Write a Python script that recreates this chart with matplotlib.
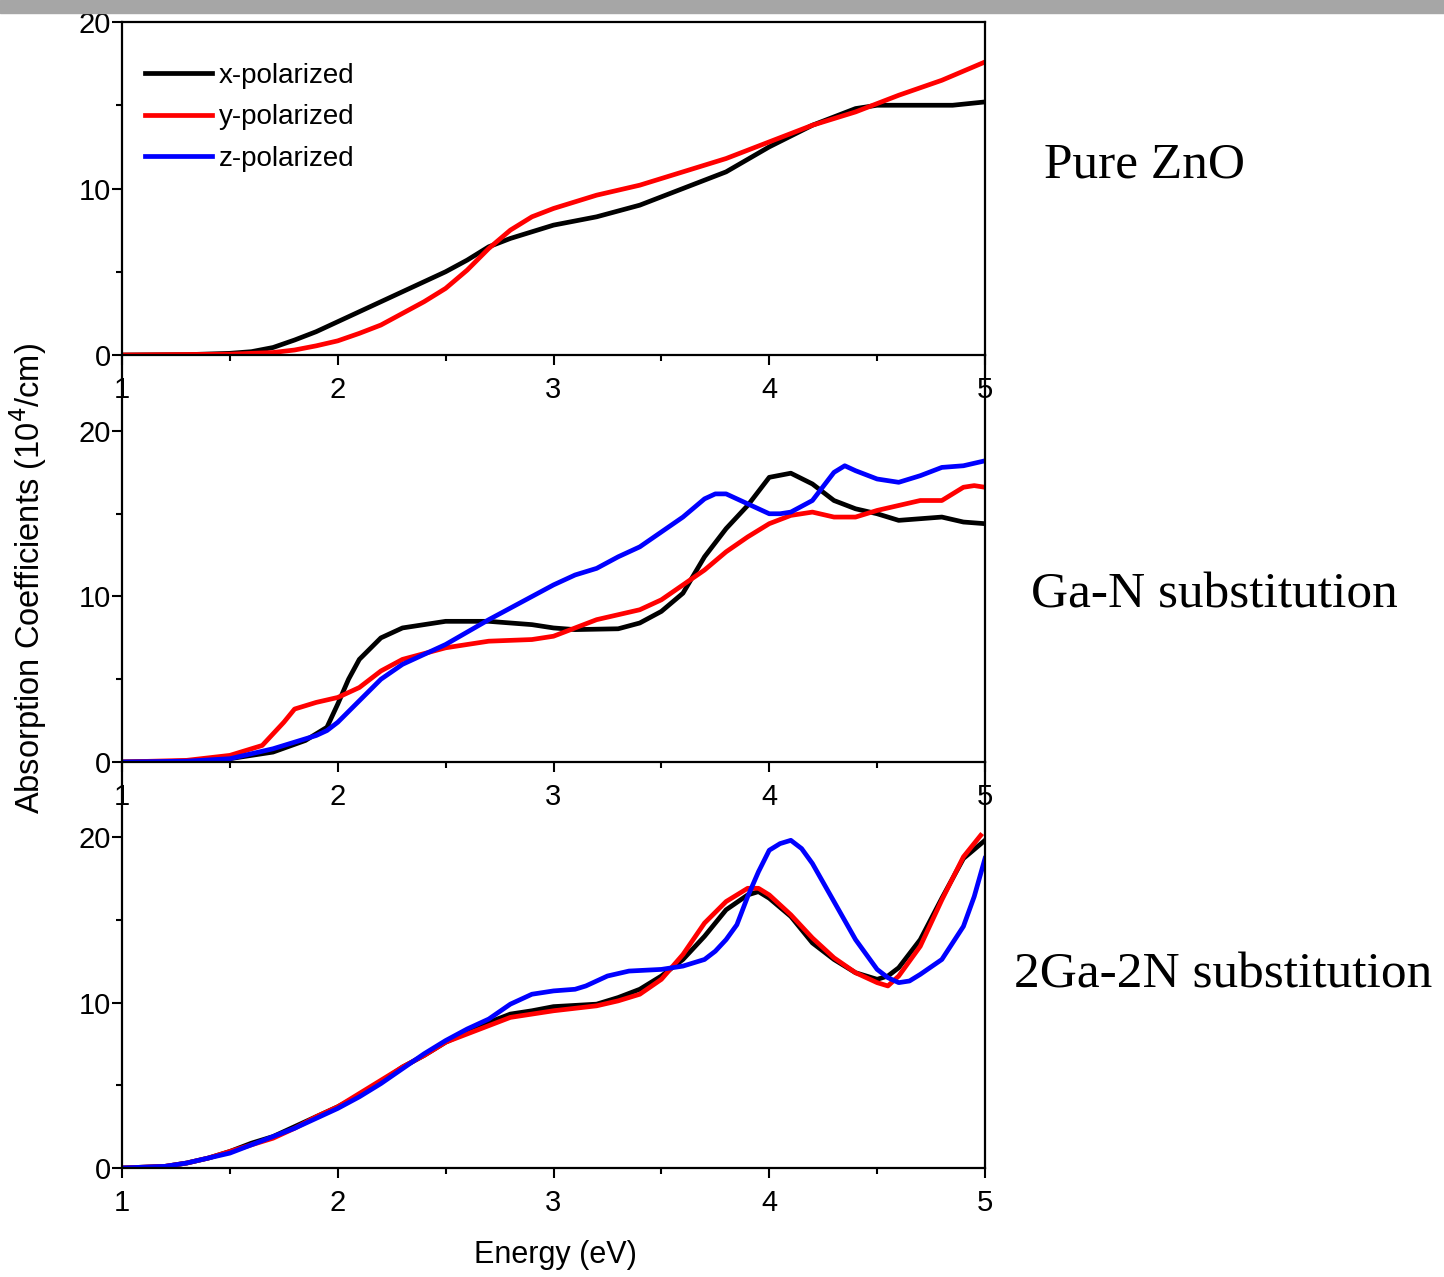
import numpy as np
import matplotlib
matplotlib.use('Agg')
import matplotlib.pyplot as plt
from matplotlib.patches import Rectangle
from matplotlib.ticker import MultipleLocator

# ---- data (energy in eV, absorption in 1e4/cm) ----
# Pure ZnO
zno_x_e = [1.0, 1.3, 1.5, 1.6, 1.7, 1.8, 1.9, 2.0, 2.1, 2.2, 2.3, 2.4, 2.5, 2.6, 2.7, 2.8, 2.9, 3.0,
           3.2, 3.4, 3.6, 3.8, 4.0, 4.2, 4.4, 4.5, 4.7, 4.85, 5.0]
zno_x = [0, 0.02, 0.1, 0.2, 0.45, 0.9, 1.4, 2.0, 2.6, 3.2, 3.8, 4.4, 5.0, 5.7, 6.5, 7.0, 7.4, 7.8,
         8.3, 9.0, 10.0, 11.0, 12.5, 13.8, 14.8, 15.0, 15.0, 15.0, 15.2]
zno_y_e = [1.0, 1.5, 1.7, 1.8, 1.9, 2.0, 2.1, 2.2, 2.3, 2.4, 2.5, 2.6, 2.7, 2.8, 2.9, 3.0,
           3.2, 3.4, 3.6, 3.8, 4.0, 4.2, 4.4, 4.6, 4.8, 5.0]
zno_y = [0, 0.05, 0.15, 0.3, 0.55, 0.85, 1.3, 1.8, 2.5, 3.2, 4.0, 5.1, 6.4, 7.5, 8.3, 8.8,
         9.6, 10.2, 11.0, 11.8, 12.8, 13.8, 14.6, 15.6, 16.5, 17.6]

# Ga-N substitution
gan_x_e = [1.0, 1.3, 1.5, 1.7, 1.85, 1.95, 2.0, 2.05, 2.1, 2.2, 2.3, 2.5, 2.7, 2.9, 3.0, 3.1, 3.3,
           3.4, 3.5, 3.6, 3.7, 3.8, 3.9, 4.0, 4.1, 4.2, 4.3, 4.4, 4.5, 4.6, 4.7, 4.8, 4.9, 5.0]
gan_x = [0, 0.05, 0.2, 0.6, 1.3, 2.1, 3.5, 5.0, 6.2, 7.5, 8.1, 8.5, 8.5, 8.3, 8.1, 8.0, 8.05,
         8.4, 9.1, 10.2, 12.4, 14.1, 15.5, 17.2, 17.45, 16.8, 15.8, 15.3, 15.0, 14.6, 14.7, 14.8, 14.5, 14.4]
gan_y_e = [1.0, 1.3, 1.5, 1.65, 1.75, 1.8, 1.9, 2.0, 2.1, 2.2, 2.3, 2.5, 2.7, 2.9, 3.0, 3.1, 3.2,
           3.3, 3.4, 3.5, 3.6, 3.7, 3.8, 3.9, 4.0, 4.1, 4.2, 4.3, 4.4, 4.5, 4.6, 4.7, 4.8, 4.9, 4.95, 5.0]
gan_y = [0, 0.1, 0.4, 1.0, 2.4, 3.2, 3.6, 3.9, 4.5, 5.5, 6.2, 6.9, 7.3, 7.4, 7.6, 8.1, 8.6,
         8.9, 9.2, 9.8, 10.7, 11.6, 12.7, 13.6, 14.4, 14.9, 15.1, 14.8, 14.8, 15.2, 15.5, 15.8, 15.8, 16.6, 16.7, 16.6]
gan_z_e = [1.0, 1.3, 1.5, 1.7, 1.8, 1.9, 1.95, 2.0, 2.1, 2.2, 2.3, 2.5, 2.7, 2.9, 3.0, 3.1, 3.2,
           3.3, 3.4, 3.5, 3.6, 3.7, 3.75, 3.8, 3.9, 4.0, 4.05, 4.1, 4.2, 4.3, 4.35, 4.4, 4.5, 4.6,
           4.7, 4.8, 4.9, 5.0]
gan_z = [0, 0.05, 0.2, 0.8, 1.2, 1.6, 1.9, 2.4, 3.7, 5.0, 5.9, 7.1, 8.6, 10.0, 10.7, 11.3, 11.7,
         12.4, 13.0, 13.9, 14.8, 15.9, 16.2, 16.2, 15.6, 15.0, 15.0, 15.1, 15.8, 17.5, 17.9, 17.6, 17.1, 16.9,
         17.3, 17.8, 17.9, 18.2]

# 2Ga-2N substitution
g2_x_e = [1.0, 1.2, 1.3, 1.4, 1.5, 1.6, 1.7, 1.8, 1.9, 2.0, 2.1, 2.2, 2.3, 2.4, 2.5, 2.6, 2.7, 2.8,
          2.9, 3.0, 3.2, 3.3, 3.4, 3.5, 3.6, 3.7, 3.8, 3.9, 3.95, 4.0, 4.1, 4.2, 4.3, 4.4, 4.5, 4.55,
          4.6, 4.7, 4.8, 4.9, 5.0]
g2_x = [0, 0.1, 0.3, 0.6, 1.0, 1.5, 1.9, 2.5, 3.1, 3.7, 4.4, 5.2, 6.1, 6.8, 7.6, 8.2, 8.8, 9.3,
        9.5, 9.75, 9.9, 10.3, 10.8, 11.6, 12.6, 14.0, 15.6, 16.5, 16.7, 16.3, 15.2, 13.6, 12.6, 11.8, 11.4, 11.6,
        12.1, 13.8, 16.3, 18.7, 19.8]
g2_y_e = [1.0, 1.2, 1.3, 1.4, 1.5, 1.6, 1.7, 1.8, 1.9, 2.0, 2.1, 2.2, 2.3, 2.4, 2.5, 2.6, 2.7, 2.8,
          2.9, 3.0, 3.2, 3.3, 3.4, 3.5, 3.6, 3.7, 3.8, 3.9, 3.95, 4.0, 4.1, 4.2, 4.3, 4.4, 4.5, 4.55,
          4.6, 4.7, 4.8, 4.9, 4.98]
g2_y = [0, 0.1, 0.3, 0.6, 1.0, 1.4, 1.8, 2.4, 3.1, 3.7, 4.5, 5.3, 6.1, 6.8, 7.6, 8.1, 8.6, 9.1,
        9.3, 9.5, 9.8, 10.1, 10.5, 11.4, 12.9, 14.8, 16.1, 16.9, 16.9, 16.5, 15.3, 13.9, 12.7, 11.8, 11.2, 11.0,
        11.6, 13.4, 16.2, 18.8, 20.1]
g2_z_e = [1.0, 1.2, 1.3, 1.4, 1.5, 1.6, 1.7, 1.8, 1.9, 2.0, 2.1, 2.2, 2.3, 2.4, 2.5, 2.6, 2.7, 2.8,
          2.9, 3.0, 3.1, 3.15, 3.25, 3.35, 3.5, 3.6, 3.7, 3.75, 3.8, 3.85, 3.9, 3.95, 4.0, 4.05, 4.1,
          4.15, 4.2, 4.3, 4.4, 4.5, 4.55, 4.6, 4.65, 4.7, 4.8, 4.9, 4.95, 5.0]
g2_z = [0, 0.1, 0.3, 0.6, 0.9, 1.4, 1.9, 2.4, 3.0, 3.6, 4.3, 5.1, 6.0, 6.9, 7.7, 8.4, 9.0, 9.9,
        10.5, 10.7, 10.8, 11.0, 11.6, 11.9, 12.0, 12.2, 12.6, 13.1, 13.8, 14.7, 16.4, 17.9, 19.2, 19.6, 19.8,
        19.3, 18.4, 16.1, 13.8, 12.0, 11.5, 11.2, 11.3, 11.7, 12.6, 14.6, 16.4, 18.7]

panel_names = ['Pure ZnO', 'Ga-N substitution', '2Ga-2N substitution']
series_labels = ['x-polarized', 'y-polarized', 'z-polarized']
series_colors = ['black', 'red', 'blue']

plt.rcParams['font.family'] = ['Liberation Sans', 'DejaVu Sans']

fig = plt.figure(figsize=(14.44, 12.77), dpi=100)
W, H = 1444., 1277.

# grey strip along the top of the page
fig.patches.append(Rectangle((0, 1 - 13 / H), 1, 13 / H, transform=fig.transFigure,
                             color='#a6a6a6', zorder=0))

left = 122 / W
width = (985 - 122) / W
# (bottom px, top px) of each axes box
boxes = [(355, 22), (762, 355), (1168, 762)]
ytops = [20, 20 * 407 / 331., 20 * 406 / 331.]

panels = [
    [(zno_x_e, zno_x), (zno_y_e, zno_y), None],
    [(gan_x_e, gan_x), (gan_y_e, gan_y), (gan_z_e, gan_z)],
    [(g2_x_e, g2_x), (g2_y_e, g2_y), (g2_z_e, g2_z)],
]

axes = []
for i, (bpx, tpx) in enumerate(boxes):
    ax = fig.add_axes([left, 1 - bpx / H, width, (bpx - tpx) / H])
    ax.patch.set_alpha(0)
    for j, s in enumerate(panels[i]):
        if s is None:
            # z-polarized curve not visible for pure ZnO, only in legend
            ax.plot([], [], color=series_colors[j], lw=3.4, label=series_labels[j])
        else:
            ax.plot(s[0], s[1], color=series_colors[j], lw=3.4, label=series_labels[j])
    ax.set_xlim(1, 5)
    ax.set_ylim(0, ytops[i])
    ax.xaxis.set_major_locator(MultipleLocator(1))
    ax.xaxis.set_minor_locator(MultipleLocator(0.5))
    ax.set_yticks([0, 10, 20])
    ax.set_yticks([5, 15], minor=True)
    ax.tick_params(which='both', direction='out', width=1.5, labelsize=21, top=False, right=False)
    ax.tick_params(which='major', length=7)
    ax.tick_params(which='minor', length=4)
    ax.tick_params(axis='x', pad=8)
    ax.tick_params(axis='y', pad=1)
    for sp in ax.spines.values():
        sp.set_linewidth(1.6)
    if i > 0:
        ax.spines['top'].set_visible(False)
    axes.append(ax)

axes[0].legend(loc='upper left', bbox_to_anchor=(0.014, 0.91), borderaxespad=0, frameon=False,
               fontsize=20, handlelength=2.4, handletextpad=0.25, labelspacing=0.55)

serif = ['Liberation Serif', 'DejaVu Serif']
fig.text(1144 / W, 1 - 165 / H, panel_names[0], family=serif, fontsize=37, ha='center', va='center')
fig.text(1214 / W, 1 - 595 / H, panel_names[1], family=serif, fontsize=37, ha='center', va='center')
fig.text(1223 / W, 1 - 975 / H, panel_names[2], family=serif, fontsize=37, ha='center', va='center')

fig.text(28 / W, 1 - 579 / H, 'Absorption Coefficients (10$^4$/cm)', rotation=90,
         fontsize=23.5, ha='center', va='center')
fig.text(555 / W, 1 - 1255 / H, 'Energy (eV)', fontsize=22, ha='center', va='center')

fig.savefig('out.png', dpi=100)
